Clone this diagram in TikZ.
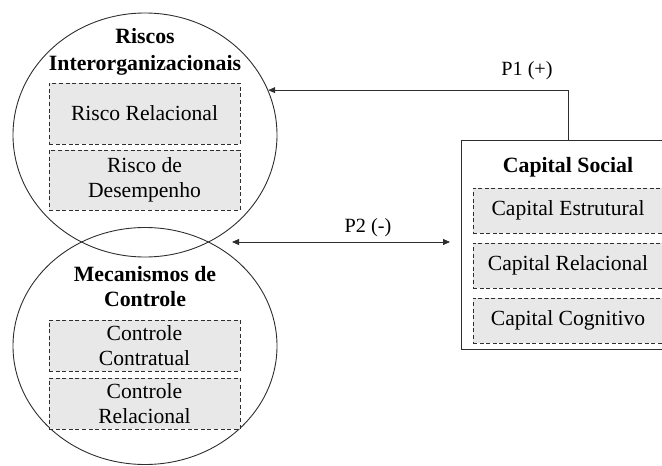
\documentclass[tikz,border=0pt]{standalone}
\usepackage{fontspec}
\setmainfont{Liberation Serif}
\usetikzlibrary{shapes.geometric,arrows.meta}
\begin{document}
\begin{tikzpicture}[x=1pt,y=-1pt,
  linecol/.style={draw=black!82, line width=0.9pt},
  zone/.style={linecol, ellipse, inner sep=0pt},
  frame/.style={linecol, rectangle, inner sep=0pt},
  sub/.style={draw=black!82, line width=0.9pt, dash pattern=on 4pt off 2.6pt,
    fill=gray!18, inner sep=0pt, align=center,
    font=\fontsize{21.6}{25}\selectfont},
  heading/.style={align=center, inner sep=0pt},
  tag/.style={inner sep=0pt, font=\fontsize{20.2}{24}\selectfont},
  conn/.style={draw=black!82, line width=0.8pt, -{Triangle[length=7pt,width=6pt]}}]
  % page area
  \path[use as bounding box] (0,0) rectangle (662,466);
  \clip (0,0) rectangle (662,466);

  % the two overlapping ellipses
  \node[zone, minimum width=264pt, minimum height=244pt] (ri) at (145,135) {};
  \node[zone, minimum width=264pt, minimum height=237pt] (mc) at (145,346) {};

  % Riscos Interorganizacionais
  \node[heading, font=\fontsize{21.8}{27.5}\selectfont\bfseries] (rititle) at (145,52) {Riscos\\Interorganizacionais};
  \node[sub, minimum width=191pt, minimum height=61pt] (rrel) at (144.5,113.5) {Risco Relacional};
  \node[sub, minimum width=191pt, minimum height=60pt] (rdes) at (144.5,180) {Risco de\\Desempenho};

  % Mecanismos de Controle
  \node[heading, font=\fontsize{21.8}{25}\selectfont\bfseries] (mctitle) at (145,287) {Mecanismos de\\Controle};
  \node[sub, minimum width=191pt, minimum height=51pt] (cctr) at (144.5,345.5) {Controle\\Contratual};
  \node[sub, minimum width=191pt, minimum height=51pt] (crel) at (144.5,403.5) {Controle\\Relacional};

  % Capital Social
  \node[frame, minimum width=214pt, minimum height=209pt] (cs) at (568,244.5) {};
  \node[heading, font=\fontsize{21.8}{25}\selectfont\bfseries] (cstitle) at (568,167) {Capital Social};
  \node[sub, minimum width=190pt, minimum height=45pt] (cest) at (568,210.5) {Capital Estrutural};
  \node[sub, minimum width=190pt, minimum height=45pt] (crl) at (568,265.5) {Capital Relacional};
  \node[sub, minimum width=190pt, minimum height=45pt] (ccog) at (568,320.5) {Capital Cognitivo};

  % propositions
  \draw[conn] (cs.north) |- (ri.20);
  \node[tag] (p1) at (527,71) {P1 (+)};

  \coordinate (p2a) at (232,242);
  \coordinate (p2b) at (450,242);
  \draw[conn, {Triangle[length=7pt,width=6pt]}-{Triangle[length=7pt,width=6pt]}] (p2a) -- (p2b);
  \node[tag] (p2) at (368,228) {P2 (-)};
\end{tikzpicture}
\end{document}
